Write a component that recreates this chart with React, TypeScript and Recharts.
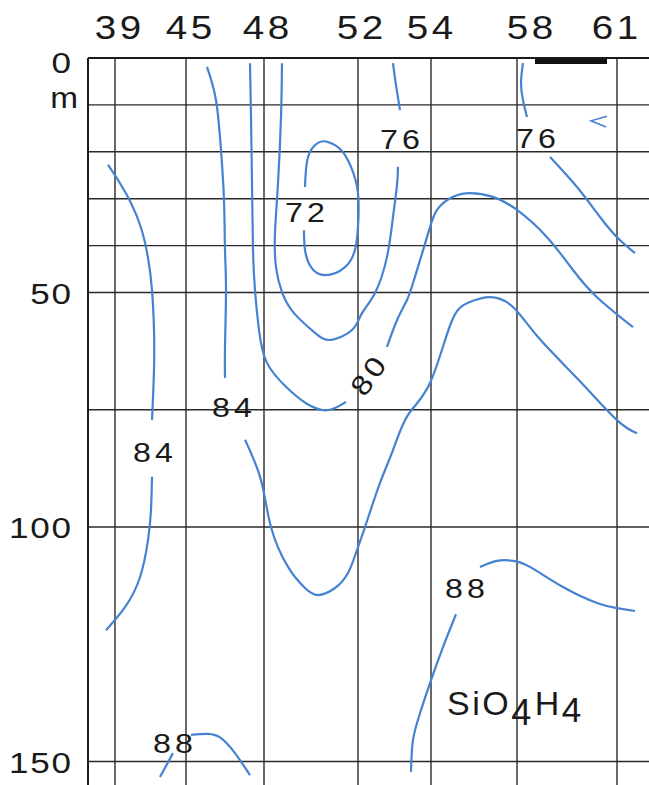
import { LineChart, Line, XAxis, YAxis, ReferenceLine, ReferenceDot, ReferenceArea } from 'recharts'

const FONT = '"Liberation Sans", Arial, Helvetica, sans-serif'
const BLUE = '#4682d2'
const GRID = '#2a2a2a'
const INK = '#1a1a1a'

// stations along the section, positioned by distance from the left edge
const stations = ['39', '45', '48', '52', '54', '58', '61']
const stationPos = [27, 98, 176, 270, 343, 429, 529]
const gridDepths = [10, 20, 30, 40, 50, 75, 100, 150]
const depthTicks = [0, 50, 100, 150]

type P = { x: number; d: number }
const pts = (arr: number[][]): P[] => arr.map(([x, d]) => ({ x, d }))

// contour lines, [distance, depth m]
const c84west1 = pts([[20, 22.8], [32, 26.7], [43, 30.9], [53, 36.2], [60, 42.6], [64, 49.5], [66, 58.0], [66, 66.5], [64, 77.2]])
const c84west2 = pts([[64, 89.3], [63, 96.4], [60, 102.8], [52, 110.7], [37, 117.1], [18, 122.0]])
const c84a = pts([[119, 1.9], [128, 9.0], [133, 19.6], [136, 30.3], [137, 40.9], [138, 49.5], [137, 61.6], [137, 68.2]])
const c84b = pts([
  [157, 81.4], [173, 90.0], [183, 100.0], [200, 108.5], [217, 113.0], [230, 114.5], [247, 113.0],
  [260, 109.8], [268, 105.5], [277, 100.0], [292, 90.6], [305, 83.6], [320, 76.1], [342, 69.3],
  [363, 56.5], [380, 52.2], [402, 51.0], [425, 53.1], [450, 59.5], [491, 68.7], [529, 77.2], [549, 80.0],
])
const c80a = pts([[162, 1.1], [163, 12.6], [164, 26.7], [165, 40.9], [167, 49.5], [171, 58.0], [179, 65.0], [198, 70.1], [218, 73.6], [239, 75.1], [258, 73.3]])
const c80b = pts([
  [299, 61.6], [309, 55.9], [319, 51.6], [326, 47.3], [339, 38.2], [349, 32.4], [365, 29.6],
  [382, 28.8], [405, 29.6], [429, 32.4], [459, 38.2], [485, 45.2], [509, 51.0], [545, 57.4],
])
const c76a = pts([[305, 1.1], [308, 5.8], [312, 11.1]])
const c76b = pts([
  [310, 23.2], [309, 27.1], [305, 33.9], [299, 42.4], [287, 50.1], [274, 54.4], [264, 58.0], [243, 60.1],
  [227, 58.6], [206, 54.4], [194, 49.9], [188, 44.6], [187, 37.3], [190, 26.7], [193, 12.6], [194, 1.1],
])
const c76east1 = pts([[435, 1.1], [433, 5.3], [435, 9.0], [439, 12.6]])
const c76east2 = pts([[462, 21.1], [489, 27.5], [512, 33.9], [529, 38.2], [547, 41.6]])
const c72 = pts([
  [217, 27.5], [220, 21.1], [230, 18.1], [240, 17.9], [253, 19.6], [263, 23.2], [270, 28.8],
  [270, 36.0], [267, 40.9], [257, 44.6], [237, 46.3], [223, 44.6], [217, 40.9], [216, 36.7],
])
const c88east1 = pts([[392, 108.5], [409, 107.2], [425, 107.2], [442, 108.5], [475, 112.8], [509, 116.2], [529, 117.3], [547, 117.9]])
const c88east2 = pts([[368, 118.6], [355, 125.6], [342, 133.3], [332, 139.7], [325, 145.4], [323, 152.2]])
const c88west1 = pts([[72, 153.3], [85, 148.2]])
const c88west2 = pts([[103, 144.3], [120, 144.1], [133, 145.0], [147, 148.2], [162, 152.9]])
const tick = pts([[519, 12.4], [503, 13.4], [518, 14.7]])

const contours = [c84west1, c84west2, c84a, c84b, c80a, c80b, c76a, c76b, c76east1, c76east2, c72, c88east1, c88east2, c88west1, c88west2]

const labels = [
  { text: '76', x: 312, d: 17.3, angle: 0 },
  { text: '76', x: 448, d: 17.0, angle: 0 },
  { text: '72', x: 217, d: 32.8, angle: 0 },
  { text: '80', x: 280, d: 67.8, angle: -55 },
  { text: '84', x: 144, d: 74.4, angle: 0 },
  { text: '84', x: 65, d: 84.0, angle: 0 },
  { text: '88', x: 377, d: 113.0, angle: 0 },
  { text: '88', x: 85, d: 146.1, angle: 0 },
]

// printed station numbers are not exactly centred over their lines
const labelShift = [3, 3, 2, 2, -1, 13, -2]

// the printed digits are a little wider than Liberation Sans, so stretch them
const Wide = ({ x, y, size, spacing = 0, anchor = 'middle', sx = 1.17, rotate = 0, children }: any) => {
  const comp = anchor === 'middle' ? spacing / 2 : anchor === 'end' ? spacing : 0
  return (
    <text
      transform={`translate(${x},${y}) rotate(${rotate}) scale(${sx},1)`}
      x={comp}
      y={0}
      textAnchor={anchor}
      fontSize={size}
      letterSpacing={spacing}
      fill={INK}
      fontFamily={FONT}
    >
      {children}
    </text>
  )
}

const TopTick = (props: any) => {
  const { x, payload } = props
  const i = stationPos.indexOf(payload.value)
  return (
    <Wide x={x + labelShift[i]} y={39} size={33} spacing={3}>
      {stations[i]}
    </Wide>
  )
}

const LeftTick = (props: any) => {
  const { y, payload } = props
  const v = payload.value
  return (
    <g>
      <Wide x={71} y={y + (v === 0 ? 15 : 11)} size={30} spacing={1.5} anchor="end">
        {v}
      </Wide>
      {v === 0 && (
        <Wide x={78} y={y + 50} size={29} anchor="end" sx={1.15}>
          m
        </Wide>
      )}
    </g>
  )
}

export default function App() {
  return (
    <div style={{ position: 'absolute', left: 0, top: 0, background: '#fff' }}>
      <LineChart width={649} height={785} margin={{ top: 0, right: 0, bottom: 0, left: 0 }}>
        <XAxis
          type="number"
          dataKey="x"
          orientation="top"
          domain={[0, 561]}
          allowDataOverflow
          ticks={stationPos}
          tick={<TopTick />}
          tickLine={false}
          height={58}
          axisLine={{ stroke: INK, strokeWidth: 2 }}
        />
        <YAxis
          type="number"
          dataKey="d"
          reversed
          domain={[0, 155]}
          allowDataOverflow
          ticks={depthTicks}
          tick={<LeftTick />}
          tickLine={false}
          width={88}
          axisLine={{ stroke: INK, strokeWidth: 2 }}
        />
        {stationPos.map((x) => (
          <ReferenceLine key={'v' + x} x={x} stroke={GRID} strokeWidth={1.4} />
        ))}
        {gridDepths.map((d) => (
          <ReferenceLine key={'h' + d} y={d} stroke={GRID} strokeWidth={1.4} />
        ))}
        <ReferenceArea x1={447} x2={519} y1={0} y2={1.3} fill="#111" fillOpacity={1} stroke="none" />
        {contours.map((c, i) => (
          <Line
            key={'c' + i}
            data={c}
            dataKey="d"
            type="natural"
            stroke={BLUE}
            strokeWidth={2.2}
            dot={false}
            activeDot={false}
            isAnimationActive={false}
          />
        ))}
        <Line data={tick} dataKey="d" type="linear" stroke={BLUE} strokeWidth={1.6} dot={false} activeDot={false} isAnimationActive={false} />
        {labels.map((l, i) => (
          <ReferenceDot
            key={'l' + i}
            x={l.x}
            y={l.d}
            r={0}
            shape={(p: any) => {
              const a = (l.angle * Math.PI) / 180
              // baseline sits 10px below the label centre, measured along the rotated frame
              const bx = p.cx - 10 * Math.sin(a)
              const by = p.cy + 10 * Math.cos(a)
              return (
                <Wide x={bx} y={by} size={28} spacing={3.5} sx={1.15} rotate={l.angle}>
                  {l.text}
                </Wide>
              )
            }}
          />
        ))}
        <ReferenceDot
          x={359}
          y={140.1}
          r={0}
          shape={(p: any) => (
            <text x={p.cx} y={p.cy} fontSize={34} letterSpacing={2.5} fill={INK} fontFamily={FONT}>
              SiO
              <tspan fontSize={36} dy={10}>4</tspan>
              <tspan fontSize={34} dy={-10} dx={1}>H</tspan>
              <tspan fontSize={35} dy={7}>4</tspan>
            </text>
          )}
        />
      </LineChart>
    </div>
  )
}
